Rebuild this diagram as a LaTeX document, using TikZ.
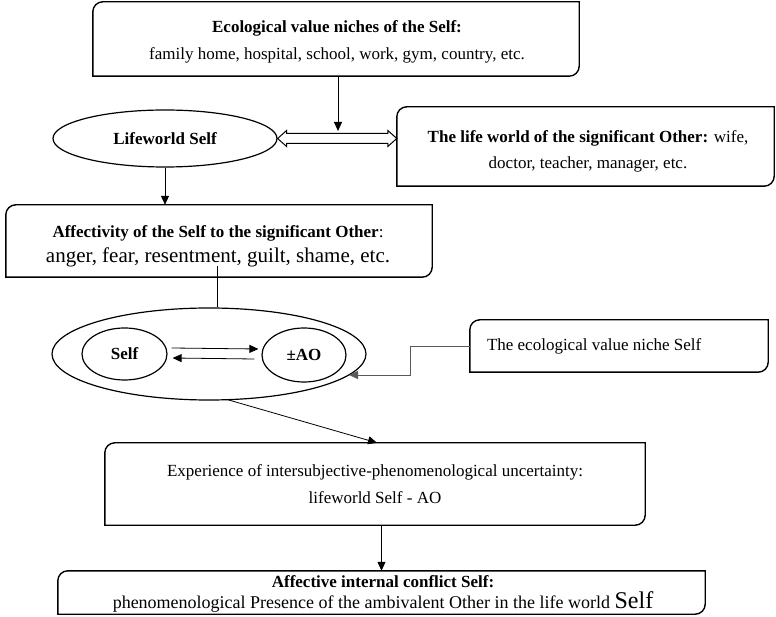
\documentclass[tikz,border=0pt]{standalone}
\usepackage{fontspec}
\setmainfont{Liberation Serif}
\usetikzlibrary{arrows.meta,shapes.geometric,calc}
\tikzset{
 x=1pt,y=1pt,
 boxline/.style={line width=1.4pt},
 tbox/.style={inner sep=0pt, align=center, font=\fontsize{17}{27}\selectfont},
 oval/.style={ellipse, draw, line width=1.2pt, inner sep=0pt, font=\fontsize{17}{20}\selectfont\bfseries},
 arr/.style={line width=0.8pt, -{Triangle[length=9pt,width=8pt]}},
 conn/.style={line width=0.8pt},
}
\newcommand{\snipbox}[1]{\draw[boxline] ([xshift=10pt]#1.north west) -- (#1.north east) -- ([yshift=10pt]#1.south east) arc[start angle=0,end angle=-90,radius=10pt] -- (#1.south west) -- ([yshift=-10pt]#1.north west) arc[start angle=180,end angle=90,radius=10pt] -- cycle;}
\begin{document}
\begin{tikzpicture}
\useasboundingbox (0,0) rectangle (776,616);
% top box
\node[tbox, minimum width=486pt, minimum height=74pt] (top) at (336,577) {};
\node[tbox] (toptxt) at (337,574) {\textbf{Ecological value niches of the Self:}\\ family home, hospital, school, work, gym, country, etc.};
\snipbox{top}
% lifeworld self
\node[oval, minimum width=224pt, minimum height=57pt] (lw) at (165,477.5) {Lifeworld Self};
% life world of other
\node[tbox, minimum width=377pt, minimum height=79pt] (lwo) at (585.5,469.5) {};
\node[tbox, font=\fontsize{17}{26}\selectfont] (lwotxt) at (588,464.5) {\textbf{The life world of the significant Other:} wife,\\ doctor, teacher, manager, etc.};
\snipbox{lwo}
% double arrow
\coordinate (da) at (lw.east);
\coordinate (db) at (lwo.west |- lw.east);
\draw[line width=1pt] (da) -- ++(9,8) -- ++(0,-3) -- ($(db)+(-9,5)$) -- ++(0,3) -- (db) -- ++(-9,-8) -- ++(0,3) -- ($(da)+(9,-5)$) -- ++(0,-3) -- cycle;
\coordinate (dblmid) at (338,485);
\draw[arr] (top.south -| dblmid) -- (dblmid);
% affectivity
\node[tbox, minimum width=426pt, minimum height=72pt] (aff) at (219,375) {};
\node[tbox, font=\fontsize{17}{25}\selectfont] (afftxt) at (218,370) {\textbf{Affectivity of the Self to the significant Other}:\\ {\fontsize{21}{25}\selectfont anger, fear, resentment, guilt, shame, etc.}};
\snipbox{aff}
\draw[arr] (lw.south) -- (aff.north -| lw.south);
% big ellipse
\node[ellipse, draw, line width=1.2pt, minimum width=314pt, minimum height=92pt] (big) at (209,262) {};
\node[oval, minimum width=85pt, minimum height=52pt] (self) at (124.5,262) {Self};
\node[oval, minimum width=84pt, minimum height=54pt] (ao) at (304,261) {±AO};
\draw[arr] ($(self.east)+(4,6)$) -- ($(ao.west)+(-3,6)$);
\draw[arr] ($(ao.west)+(-7,-4)$) -- ($(self.east)+(5,-4)$);
\coordinate (affl) at (217,350);
\draw[conn] (affl) -- (affl |- big.north);
% niche
\node[tbox, minimum width=298pt, minimum height=52pt] (niche) at (619,270) {\makebox[264pt][l]{The ecological value niche Self}};
\snipbox{niche}
\coordinate (elb) at (410,241);
\coordinate (tipao) at (349,241);
\draw[arr, black!65] (niche.west) -| (elb) -- (tipao);
% experience
\node[tbox, minimum width=540pt, minimum height=82pt] (exp) at (375,132) {Experience of intersubjective-phenomenological uncertainty:\\ lifeworld Self - AO};
\snipbox{exp}
\coordinate (bigb) at (227,216.5);
\draw[arr] (bigb) -- ($(exp.north)+(2,0)$);
% final
\node[tbox, minimum width=647pt, minimum height=43pt] (fin) at (381.5,23.5) {};
\node[tbox, font=\fontsize{17}{21}\selectfont] (fintxt) at (383,22) {\textbf{Affective internal conflict Self:}\\ {\fontsize{18}{21}\selectfont phenomenological Presence of the ambivalent Other in the life world {\fontsize{24}{21}\selectfont Self}}};
\snipbox{fin}
\draw[arr] (exp.south -| fin.north) -- (fin.north);
\end{tikzpicture}
\end{document}
